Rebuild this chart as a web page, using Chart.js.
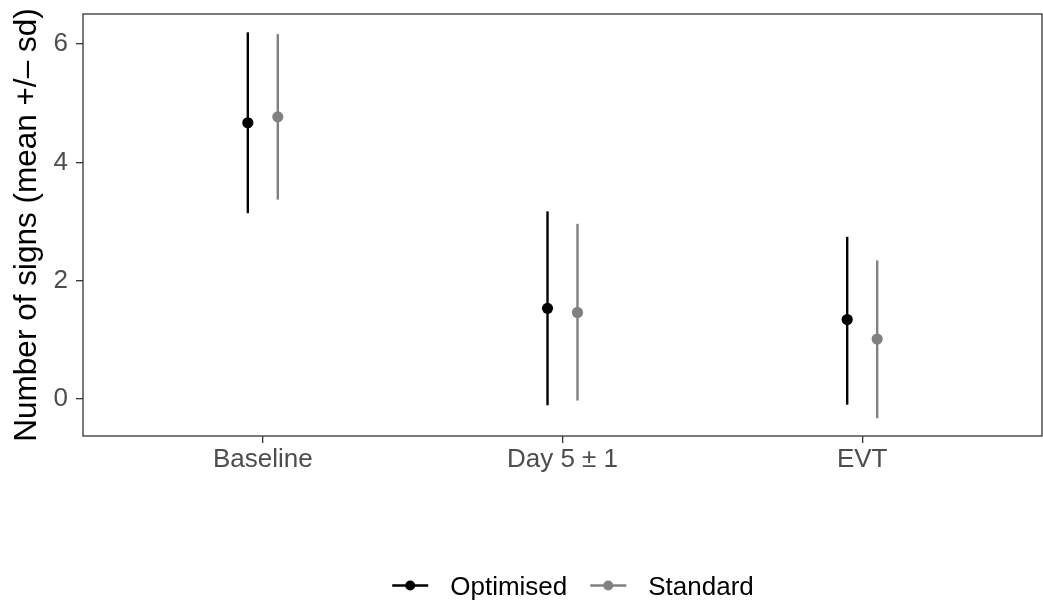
<!DOCTYPE html>
<html>
<head>
<meta charset="utf-8">
<title>Number of signs</title>
<script src="https://cdn.jsdelivr.net/npm/chart.js@4/dist/chart.umd.min.js"></script>
<style>
  html, body { margin: 0; padding: 0; background: #ffffff; }
  #wrap { width: 1043px; height: 602px; }
</style>
</head>
<body>
<div id="wrap"><canvas id="signsChart" width="1043" height="602"></canvas></div>
<script>
// categories on the x axis
const categories = ["Baseline", "Day 5 \u00b1 1", "EVT"];
const seriesNames = ["Optimised", "Standard"];
const seriesColors = ["#000000", "#808080"];

// mean and mean -/+ sd for each group
const optimisedMean = [4.67, 1.53, 1.34];
const optimisedLow = [3.14, -0.11, -0.10];
const optimisedHigh = [6.20, 3.17, 2.74];

const standardMean = [4.77, 1.46, 1.01];
const standardLow = [3.37, -0.03, -0.33];
const standardHigh = [6.17, 2.96, 2.34];

const yTicks = [0, 2, 4, 6];

const dodge = 0.05;
const FONT = '"Liberation Sans", Arial, Helvetica, sans-serif';

const toPoints = (means, offset) =>
  means.map((m, i) => ({ x: i + 1 + offset, y: m }));

// draws the vertical sd lines from the dataset low/high arrays
const errorBars = {
  id: "errorBars",
  beforeDatasetsDraw(chart) {
    const { ctx, scales } = chart;
    chart.data.datasets.forEach((ds) => {
      ctx.save();
      ctx.strokeStyle = ds.backgroundColor;
      ctx.lineWidth = 2.4;
      ctx.lineCap = "butt";
      ds.data.forEach((p, i) => {
        const x = scales.x.getPixelForValue(p.x);
        ctx.beginPath();
        ctx.moveTo(x, scales.y.getPixelForValue(ds.low[i]));
        ctx.lineTo(x, scales.y.getPixelForValue(ds.high[i]));
        ctx.stroke();
      });
      ctx.restore();
    });
  },
};

// panel border and the legend below the plot
const panelAndLegend = {
  id: "panelAndLegend",
  afterDraw(chart) {
    const { ctx, chartArea: a } = chart;
    ctx.save();
    ctx.strokeStyle = "#333333";
    ctx.lineWidth = 1.3;
    ctx.strokeRect(a.left, a.top, a.right - a.left, a.bottom - a.top);

    ctx.font = "26px " + FONT;
    const iconW = 36, textGap = 22, itemGap = 23;
    const widths = chart.data.datasets.map((ds) => ctx.measureText(ds.label).width);
    const total = widths.reduce((s, w) => s + iconW + textGap + w, 0) + itemGap * (widths.length - 1);
    const cy = 585.5;
    let x = 573 - total / 2;
    chart.data.datasets.forEach((ds, i) => {
      ctx.strokeStyle = ds.backgroundColor;
      ctx.fillStyle = ds.backgroundColor;
      ctx.lineWidth = 2.4;
      ctx.beginPath();
      ctx.moveTo(x, cy);
      ctx.lineTo(x + iconW, cy);
      ctx.stroke();
      ctx.beginPath();
      ctx.arc(x + iconW / 2, cy, 5, 0, Math.PI * 2);
      ctx.fill();
      ctx.fillStyle = "#000000";
      ctx.textBaseline = "alphabetic";
      ctx.textAlign = "left";
      ctx.fillText(ds.label, x + iconW + textGap, cy + 9);
      x += iconW + textGap + widths[i] + itemGap;
    });
    ctx.restore();
  },
};

const ctx = document.getElementById("signsChart").getContext("2d");

new Chart(ctx, {
  type: "scatter",
  data: {
    datasets: [
      {
        label: seriesNames[0],
        data: toPoints(optimisedMean, -dodge),
        low: optimisedLow,
        high: optimisedHigh,
        backgroundColor: seriesColors[0],
        borderWidth: 0,
        pointRadius: 5.6,
        pointHoverRadius: 5.6,
      },
      {
        label: seriesNames[1],
        data: toPoints(standardMean, dodge),
        low: standardLow,
        high: standardHigh,
        backgroundColor: seriesColors[1],
        borderWidth: 0,
        pointRadius: 5.6,
        pointHoverRadius: 5.6,
      },
    ],
  },
  options: {
    responsive: false,
    devicePixelRatio: 1,
    animation: false,
    events: [],
    layout: { autoPadding: false, padding: { top: 14, right: 1, left: 0, bottom: 106 } },
    plugins: {
      legend: { display: false },
      tooltip: { enabled: false },
    },
    scales: {
      x: {
        type: "linear",
        min: 0.4,
        max: 3.6,
        afterBuildTicks: (scale) => {
          scale.ticks = categories.map((c, i) => ({ value: i + 1 }));
        },
        afterFit: (scale) => {
          scale.height = 60;
          scale.paddingLeft = 0;
          scale.paddingRight = 0;
        },
        border: { display: false },
        grid: {
          drawOnChartArea: false,
          drawTicks: true,
          tickLength: 7,
          color: "#333333",
          lineWidth: 1.3,
        },
        ticks: {
          autoSkip: false,
          maxRotation: 0,
          padding: 1,
          color: "#4d4d4d",
          font: { family: FONT, size: 26 },
          callback: (v) => categories[v - 1],
        },
      },
      y: {
        min: -0.63,
        max: 6.51,
        afterBuildTicks: (scale) => {
          scale.ticks = yTicks.map((v) => ({ value: v }));
        },
        afterFit: (scale) => {
          scale.width = 83;
          scale.paddingTop = 0;
          scale.paddingBottom = 0;
        },
        border: { display: false },
        grid: {
          drawOnChartArea: false,
          drawTicks: true,
          tickLength: 7,
          color: "#333333",
          lineWidth: 1.3,
        },
        ticks: {
          padding: 8,
          color: "#4d4d4d",
          font: { family: FONT, size: 26 },
        },
        title: {
          display: true,
          text: "Number of signs (mean +/\u2013 sd)",
          color: "#000000",
          font: { family: FONT, size: 31.5 },
          padding: { top: 8, bottom: 0 },
        },
      },
    },
  },
  plugins: [errorBars, panelAndLegend],
});
</script>
</body>
</html>
